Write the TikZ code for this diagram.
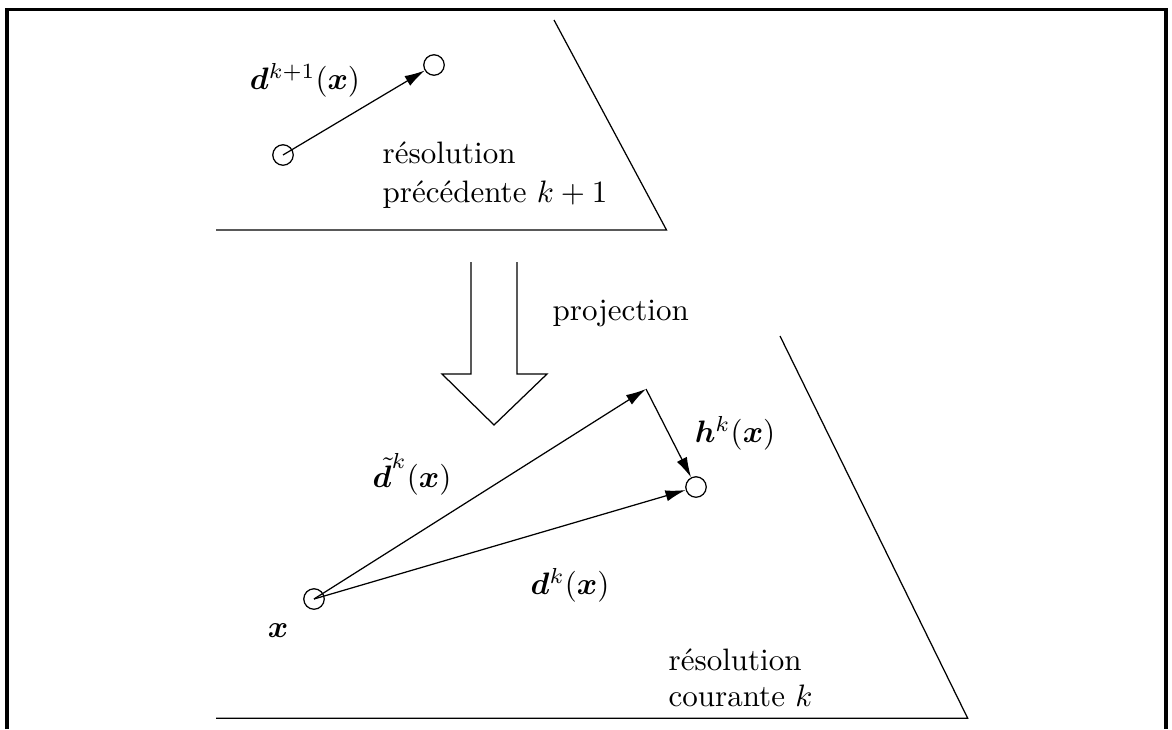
\documentclass[tikz,border=0pt]{standalone}
\usepackage{amsmath,bm}
\usetikzlibrary{arrows.meta}
\begin{document}
\begin{tikzpicture}[x=0.3225pt,y=-0.3225pt,
  frameline/.style={line width=1pt},
  thinline/.style={line width=0.4pt},
  vec/.style={thinline,-{Latex[length=6.5pt,width=3.6pt]}},
  pt/.style={circle,draw,thinline,minimum size=6.6pt,inner sep=0pt},
  lbl/.style={inner sep=0pt}]
\useasboundingbox (0,0) rectangle (1172,729);
% frame (open at the bottom)
\draw[frameline] (7,729) -- (7,9.5) -- (1166,9.5) -- (1166,729);
% previous resolution plane
\draw[thinline] (554,20) -- (666.5,230) -- (216,230);
\node[pt] (p1) at (283,155) {};
\node[pt] (p2) at (434,65) {};
\draw[vec] (p1.center) -- (p2);
\node[lbl] (dk1) at (305,80) {$\bm{d}^{k+1}(\bm{x})$};
\node[lbl,anchor=base west] (res1) at (382,163) {résolution};
\node[lbl,anchor=base west] (prec) at (382,202) {précédente $k+1$};
% projection arrow
\draw[thinline] (471,262) -- (471,374) -- (442,374) -- (494,425) -- (547,374) -- (517,374) -- (517,262);
\node[lbl,anchor=base west] (proj) at (552,320) {projection};
% current resolution plane
\draw[thinline] (780,336) -- (967.7,718.3) -- (216,718.3);
\node[pt] (x) at (314,599) {};
\node[pt] (h) at (696,487) {};
\coordinate (c) at (646,389);
\draw[vec] (x.center) -- (c);
\draw[vec] (c) -- (h);
\draw[vec] (x.center) -- (h);
\node[lbl] (dt) at (412,474) {${\tilde{\bm{d}}}^{\raisebox{2.5pt}{$\scriptstyle k$}}(\bm{x})$};
\node[lbl] (dk) at (570,585) {$\bm{d}^k(\bm{x})$};
\node[lbl] (hk) at (735,433) {$\bm{h}^k(\bm{x})$};
\node[lbl] (xl) at (278,631) {$\bm{x}$};
\node[lbl,anchor=base west] (res2) at (668,670) {résolution};
\node[lbl,anchor=base west] (cour) at (668,706) {courante $k$};
\end{tikzpicture}
\end{document}
